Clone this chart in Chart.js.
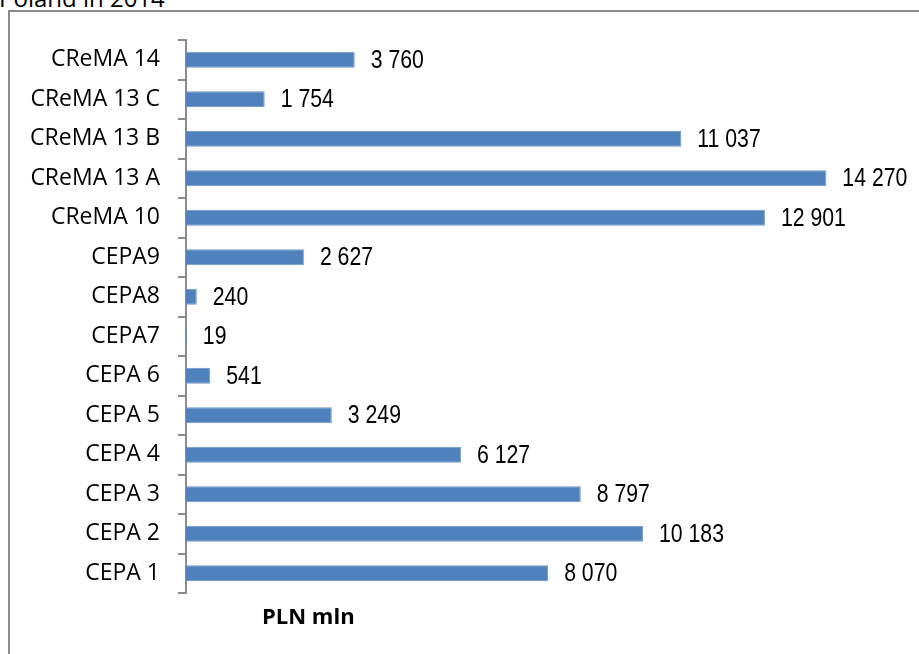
<!DOCTYPE html>
<html>
<head>
<meta charset="utf-8">
<script src="https://cdn.jsdelivr.net/npm/chart.js@4/dist/chart.umd.min.js"></script>
<style>
  html, body { margin: 0; padding: 0; background: #fff; overflow: hidden; }
  #page { position: relative; width: 919px; height: 654px; overflow: hidden; }
  #caption { position: absolute; left: -1px; top: -14px; font: 24px "Open Sans", sans-serif; line-height: 24px; color: #000; white-space: nowrap; }
  #frame { position: absolute; left: 8px; top: 10px; width: 1000px; height: 1000px; border-left: 2px solid #8c8c8c; border-top: 2px solid #8c8c8c; }
  #unit { position: absolute; left: 262px; top: 601px; font: bold 22px "Open Sans", sans-serif; line-height: 28px; color: #000; }
  #chart { position: absolute; left: 0; top: 0; }
</style>
</head>
<body>
<div id="page">
  <div id="caption">Poland in 2014</div>
  <div id="frame"></div>
  <canvas id="chart" width="919" height="654"></canvas>
  <div id="unit">PLN mln</div>
</div>
<script>
// Expenditure by classification, listed top to bottom as shown
const categories = [
  "CReMA 14", "CReMA 13 C", "CReMA 13 B", "CReMA 13 A", "CReMA 10",
  "CEPA9", "CEPA8", "CEPA7", "CEPA 6", "CEPA 5", "CEPA 4", "CEPA 3", "CEPA 2", "CEPA 1"
];
const values = [3760, 1754, 11037, 14270, 12901, 2627, 240, 19, 541, 3249, 6127, 8797, 10183, 8070];

const axisMax = 16000;
const barColor = "#4F81BD";
const axisColor = "#8c8c8c";

// "14270" -> "14 270"
function fmt(v) {
  return String(v).replace(/\B(?=(\d{3})+(?!\d))/g, " ");
}

// value labels just past the end of each bar, in a narrowed face
const valueLabels = {
  id: "valueLabels",
  afterDatasetsDraw(chart) {
    const ctx = chart.ctx;
    const meta = chart.getDatasetMeta(0);
    const squeeze = 0.85;
    ctx.save();
    ctx.font = '25px "Liberation Sans", Arial, sans-serif';
    ctx.fillStyle = "#000";
    ctx.textAlign = "left";
    ctx.textBaseline = "middle";
    meta.data.forEach((bar, i) => {
      ctx.save();
      ctx.translate(bar.x + 16, bar.y + 1);
      ctx.scale(squeeze, 1);
      ctx.fillText(fmt(values[i]), 0, 0);
      ctx.restore();
    });
    ctx.restore();
  }
};

new Chart(document.getElementById("chart"), {
  type: "bar",
  data: {
    labels: categories,
    datasets: [{
      data: values,
      backgroundColor: barColor,
      borderColor: "#6d96c8",
      borderWidth: 1,
      barPercentage: 0.4,
      categoryPercentage: 1.0
    }]
  },
  options: {
    indexAxis: "y",
    responsive: false,
    animation: false,
    layout: { padding: { left: 0, top: 40, right: 15, bottom: 61 } },
    plugins: { legend: { display: false }, tooltip: { enabled: false } },
    scales: {
      x: { display: false, min: 0, max: axisMax },
      y: {
        afterFit: (scale) => { scale.width = 186; },
        grid: {
          display: true,
          drawOnChartArea: false,
          drawTicks: true,
          tickLength: 8,
          offset: true,
          color: axisColor,
          lineWidth: 2
        },
        border: { display: true, color: axisColor, width: 2 },
        ticks: {
          color: "#000",
          padding: 18,
          font: { family: '"Open Sans", sans-serif', size: 23 }
        }
      }
    }
  },
  plugins: [valueLabels]
});
</script>
</body>
</html>
